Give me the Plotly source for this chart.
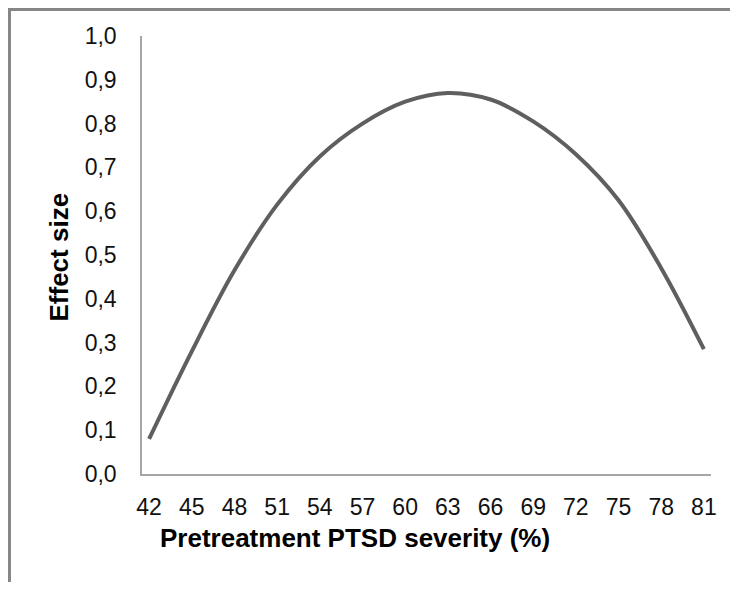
import plotly.graph_objects as go

# pretreatment PTSD severity (%) and effect size
severity = [42, 45, 48, 51, 54, 57, 60, 63, 66, 69, 72, 75, 78, 81]
effect_size = [0.08, 0.28, 0.465, 0.615, 0.725, 0.80, 0.85, 0.87,
               0.855, 0.805, 0.73, 0.625, 0.47, 0.285]
y_ticks = [0.0, 0.1, 0.2, 0.3, 0.4, 0.5, 0.6, 0.7, 0.8, 0.9, 1.0]

FONT = "Liberation Sans, Arial, sans-serif"

fig = go.Figure()
fig.add_trace(go.Scatter(
    x=severity,
    y=effect_size,
    mode="lines",
    line=dict(color="#5f5f5f", width=4, shape="spline", smoothing=1.0),
    showlegend=False,
    hoverinfo="skip",
))

# the page body has an 8px margin, so the figure is a bit smaller than the window
fig.update_layout(
    width=722,
    height=574,
    margin=dict(l=134, r=19, t=28, b=108),
    paper_bgcolor="white",
    plot_bgcolor="white",
    separators=",.",
    font=dict(family=FONT, size=23, color="black"),
    xaxis=dict(
        range=[41.5, 81.5],
        tickvals=severity,
        showgrid=False,
        zeroline=False,
        showline=True,
        linecolor="#a6a6a6",
        linewidth=1.5,
        ticks="",
        ticklabelstandoff=12,
        tickfont=dict(size=23, color="#111111"),
    ),
    yaxis=dict(
        range=[0, 1.0],
        tickvals=y_ticks,
        tickformat=".1f",
        showgrid=False,
        zeroline=False,
        showline=True,
        linecolor="#a6a6a6",
        linewidth=1.5,
        ticks="",
        ticklabelstandoff=19,
        tickfont=dict(size=23, color="#111111"),
    ),
    annotations=[
        dict(
            text="<b>Pretreatment PTSD severity (%)</b>",
            xref="paper", yref="paper",
            x=0.375, y=-0.146,
            xanchor="center", yanchor="middle",
            showarrow=False,
            font=dict(size=26, color="black", family=FONT),
        ),
        dict(
            text="<b>Effect size</b>",
            xref="paper", yref="paper",
            x=-0.145, y=0.4954,
            xanchor="center", yanchor="middle",
            textangle=-90,
            showarrow=False,
            font=dict(size=26, color="black", family=FONT),
        ),
    ],
    shapes=[
        dict(
            type="rect",
            xref="paper", yref="paper",
            x0=-0.2329, x1=1.3, y0=-0.5, y1=1.0606,
            line=dict(color="#868686", width=3),
            layer="below",
        ),
    ],
)

fig.write_html("out.html")
